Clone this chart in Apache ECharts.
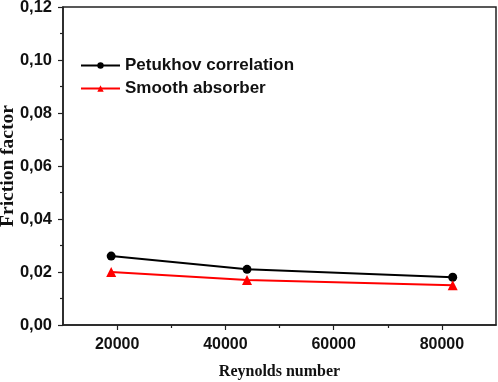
<!DOCTYPE html>
<html>
<head>
<meta charset="utf-8">
<script src="https://cdn.jsdelivr.net/npm/echarts@6/dist/echarts.min.js"></script>
<style>
  html, body { margin: 0; padding: 0; background: #fff; }
  #chart { width: 498px; height: 382px; }
</style>
</head>
<body>
<div id="chart"></div>
<script>
// data
var reynolds = [18900, 44000, 82000];
var petukhov = [0.026, 0.021, 0.018];
var smooth = [0.020, 0.017, 0.015];
var seriesNames = ['Petukhov correlation', 'Smooth absorber'];
var xMajor = [20000, 40000, 60000, 80000];
var xMinor = [30000, 50000, 70000];

var tick_size = 16;
var axisColor = '#222';

function pairs(xs, ys) {
  return xs.map(function (x, i) { return [x, ys[i]]; });
}

var chart = echarts.init(document.getElementById('chart'));
chart.setOption({
  animation: false,
  grid: {
    left: 63, right: 2, top: 7, bottom: 57,
    outerBoundsMode: 'none',
    show: true, borderColor: axisColor, borderWidth: 1.5
  },
  legend: {
    orient: 'vertical',
    left: 75, top: 52,
    itemWidth: 39, itemHeight: 8, itemGap: 6,
    data: seriesNames,
    textStyle: {
      fontFamily: 'Liberation Sans, Arial', fontWeight: 'bold',
      fontSize: 17, color: '#111'
    }
  },
  xAxis: [
    {
      type: 'value',
      min: 10000, max: 90000, interval: 10000,
      name: 'Reynolds number',
      nameLocation: 'middle', nameGap: 39, nameMoveOverlap: false,
      nameTextStyle: {
        fontFamily: 'Liberation Serif, Times New Roman', fontWeight: 'bold',
        fontSize: 16, color: '#111'
      },
      axisLine: { lineStyle: { color: axisColor, width: 1.5 } },
      axisTick: { show: true, inside: false, length: 5, customValues: xMajor,
        lineStyle: { color: axisColor, width: 1.2 } },
      axisLabel: {
        margin: 12, customValues: xMajor,
        fontFamily: 'Liberation Sans, Arial', fontWeight: 'bold',
        fontSize: tick_size, color: '#111',
        formatter: function (v) { return String(v); }
      },
      splitLine: { show: false }
    },
    {
      // short ticks between the labelled ones
      type: 'value', position: 'bottom',
      min: 10000, max: 90000, interval: 10000,
      axisLine: { show: false },
      axisTick: { show: true, inside: false, length: 3, customValues: xMinor,
        lineStyle: { color: axisColor, width: 1.2 } },
      axisLabel: { show: false },
      splitLine: { show: false }
    }
  ],
  yAxis: {
    type: 'value',
    min: 0, max: 0.12, interval: 0.02,
    name: 'Friction factor',
    nameLocation: 'middle', nameGap: 45, nameMoveOverlap: false,
    nameTextStyle: {
      fontFamily: 'Liberation Serif, Times New Roman', fontWeight: 'bold',
      fontSize: 19.5, color: '#111'
    },
    axisLine: { show: true, lineStyle: { color: axisColor, width: 1.5 } },
    axisTick: { show: true, inside: false, length: 5, lineStyle: { color: axisColor, width: 1.2 } },
    minorTick: { show: true, splitNumber: 2, length: 3, lineStyle: { color: axisColor, width: 1.2 } },
    axisLabel: {
      margin: 11,
      fontFamily: 'Liberation Sans, Arial', fontWeight: 'bold',
      fontSize: 16.5, color: '#111',
      formatter: function (v) { return v.toFixed(2).replace('.', ','); }
    },
    splitLine: { show: false }
  },
  series: [
    {
      name: seriesNames[0], type: 'line',
      data: pairs(reynolds, petukhov),
      symbol: 'circle', symbolSize: 9,
      lineStyle: { color: '#000', width: 2 },
      itemStyle: { color: '#000' }
    },
    {
      name: seriesNames[1], type: 'line',
      data: pairs(reynolds, smooth),
      symbol: 'triangle', symbolSize: 10,
      lineStyle: { color: '#ff0000', width: 2 },
      itemStyle: { color: '#ff0000' }
    }
  ]
});
</script>
</body>
</html>
